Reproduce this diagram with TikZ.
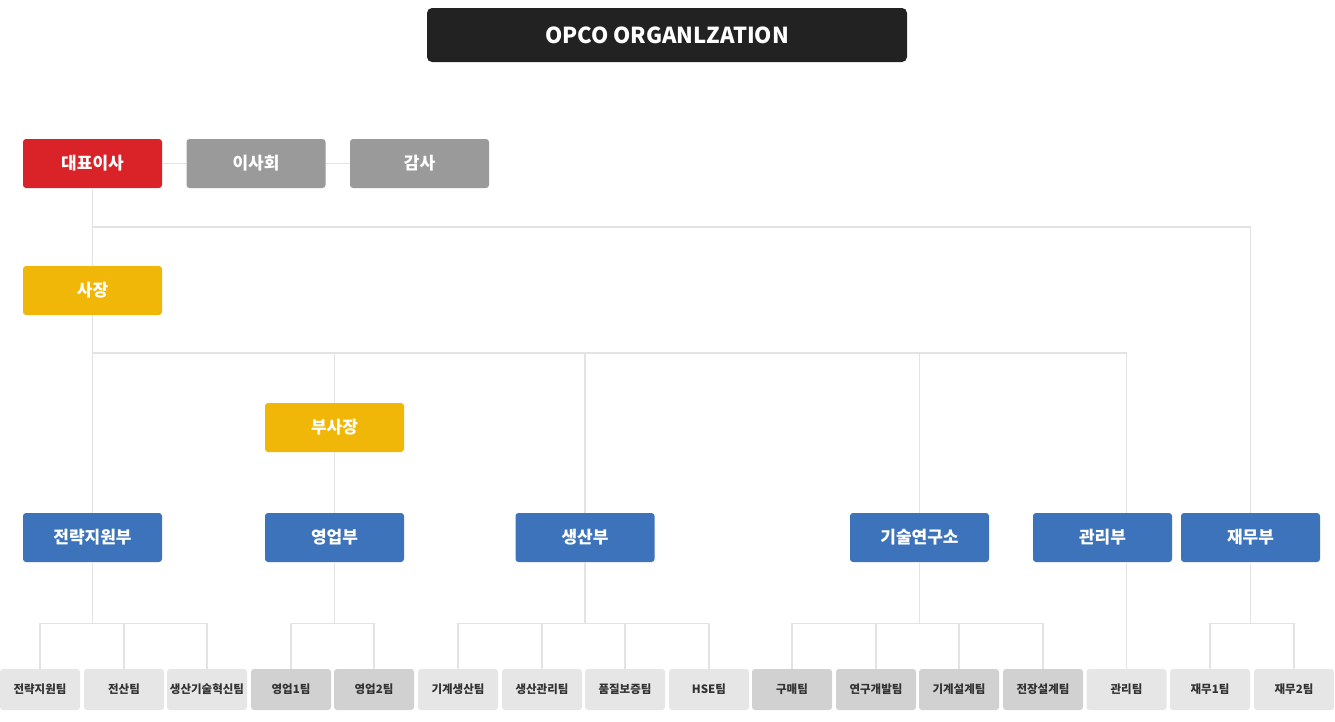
\documentclass[tikz,border=0pt]{standalone}
\usepackage{fontspec}
\setmainfont{Noto Sans CJK KR}
\definecolor{titleblack}{HTML}{222222}
\definecolor{ceored}{HTML}{DA2229}
\definecolor{boardgray}{HTML}{9A9A9A}
\definecolor{presyellow}{HTML}{F0B708}
\definecolor{deptblue}{HTML}{3C73BA}
\definecolor{teamlight}{HTML}{E6E6E6}
\definecolor{teamdark}{HTML}{D1D1D1}
\definecolor{teamtext}{HTML}{333333}
\definecolor{linegray}{HTML}{E3E3E3}

\begin{document}
\begin{tikzpicture}[x=1pt, y=-1pt,
    every node/.style = {rounded corners=3pt, align=center, inner sep=0pt},
    box/.style = {minimum width=139pt, minimum height=49pt,
        text=white, font=\fontsize{17}{20}\selectfont\bfseries},
    team/.style = {minimum width=80pt, minimum height=41pt, fill=teamlight,
        text=teamtext, font=\fontsize{11.5}{13}\selectfont\bfseries},
    dark/.style = {fill=teamdark},
    link/.style = {draw=linegray, line width=1.1pt}]
    \useasboundingbox (0,0) rectangle (1335,721);
    \node[fill=titleblack, text=white, rounded corners=5pt,
        minimum width=480pt, minimum height=54pt,
        font=\fontsize{22}{26}\selectfont\bfseries] (title) at (667,35) {OPCO ORGANLZATION};
    % executive row
    \node[box, fill=ceored] (ceo) at (92.5,163.5) {대표이사};
    \node[box, fill=boardgray] (board) at (256,163.5) {이사회};
    \node[box, fill=boardgray] (audit) at (419.5,163.5) {감사};
    \node[box, fill=presyellow] (pres) at (92.5,290.5) {사장};
    \node[box, fill=presyellow] (vp) at (334.5,427.5) {부사장};
    % departments
    \node[box, fill=deptblue] (strat) at (92.5,537.5) {전략지원부};
    \node[box, fill=deptblue] (sales) at (334.5,537.5) {영업부};
    \node[box, fill=deptblue] (prod) at (585,537.5) {생산부};
    \node[box, fill=deptblue] (rnd) at (919.5,537.5) {기술연구소};
    \node[box, fill=deptblue] (mgmt) at (1102.5,537.5) {관리부};
    \node[box, fill=deptblue] (fin) at (1250.5,537.5) {재무부};
    % teams
    \node[team] (t1) at (40,689.5) {전략지원팀};
    \node[team] (t2) at (124,689.5) {전산팀};
    \node[team] (t3) at (207,689.5) {생산기술혁신팀};
    \node[team, dark] (t4) at (291,689.5) {영업1팀};
    \node[team, dark] (t5) at (374,689.5) {영업2팀};
    \node[team] (t6) at (458,689.5) {기계생산팀};
    \node[team] (t7) at (542,689.5) {생산관리팀};
    \node[team] (t8) at (625,689.5) {품질보증팀};
    \node[team] (t9) at (709,689.5) {HSE팀};
    \node[team, dark] (t10) at (792,689.5) {구매팀};
    \node[team, dark] (t11) at (876,689.5) {연구개발팀};
    \node[team, dark] (t12) at (959,689.5) {기계설계팀};
    \node[team, dark] (t13) at (1043,689.5) {전장설계팀};
    \node[team] (t14) at (1126.5,689.5) {관리팀};
    \node[team] (t15) at (1210,689.5) {재무1팀};
    \node[team] (t16) at (1294,689.5) {재무2팀};
    % connectors
    \coordinate (j1) at (92.5,227);
    \coordinate (j2) at (92.5,353);
    \draw[link] (ceo.east) -- (board.west) (board.east) -- (audit.west);
    \draw[link] (ceo.south) -- (j1) -| (fin.north);
    \draw[link] (j1) -- (pres.north);
    \draw[link] (pres.south) -- (j2) -- (strat.north);
    \draw[link] (j2) -| (mgmt.north -| t14.north);
    \draw[link] (mgmt.south -| t14.north) -- (t14.north);
    \foreach \n in {vp, prod, rnd}
        \draw[link] (j2 -| \n.north) -- (\n.north);
    \draw[link] (vp.south) -- (sales.north);
    \foreach \d/\t in {strat/t1, strat/t2, strat/t3, sales/t4, sales/t5,
        prod/t6, prod/t7, prod/t8, prod/t9, rnd/t10, rnd/t11, rnd/t12,
        rnd/t13, fin/t15, fin/t16}
        \draw[link] (\d.south) -- ++(0,61) -| (\t.north);
\end{tikzpicture}
\end{document}
